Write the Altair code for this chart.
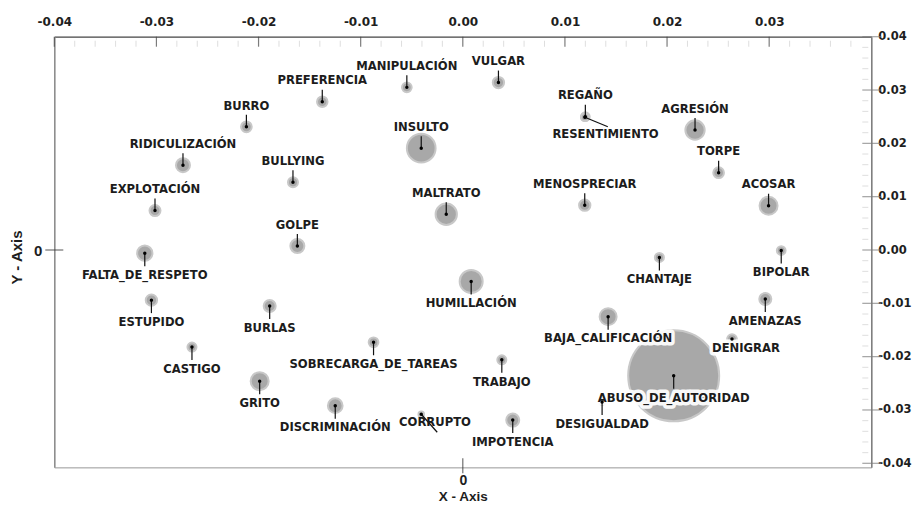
import altair as alt
import pandas as pd

# ---------------- data ----------------
palabras = [
    "MANIPULACIÓN", "PREFERENCIA", "BURRO", "RIDICULIZACIÓN", "BULLYING",
    "EXPLOTACIÓN", "GOLPE", "INSULTO", "MALTRATO", "VULGAR",
    "REGAÑO", "RESENTIMIENTO", "AGRESIÓN", "TORPE", "MENOSPRECIAR",
    "ACOSAR", "CHANTAJE", "BIPOLAR", "FALTA_DE_RESPETO", "ESTUPIDO",
    "BURLAS", "CASTIGO", "SOBRECARGA_DE_TAREAS", "GRITO", "DISCRIMINACIÓN",
    "CORRUPTO", "HUMILLACIÓN", "BAJA_CALIFICACIÓN", "TRABAJO", "ABUSO_DE_AUTORIDAD",
    "DESIGUALDAD", "IMPOTENCIA", "AMENAZAS", "DENIGRAR",
]
coord_x = [
    -0.00548, -0.01376, -0.02119, -0.02740, -0.01663,
    -0.03014, -0.01620, -0.00407, -0.00162, 0.00349,
    0.01200, 0.01195, 0.02274, 0.02505, 0.01194,
    0.02994, 0.01925, 0.03118, -0.03114, -0.03049,
    -0.01891, -0.02652, -0.00874, -0.01989, -0.01249,
    -0.00407, 0.00082, 0.01423, 0.00382, 0.02065,
    0.01364, 0.00489, 0.02962, 0.02636,
]
coord_y = [
    0.0305, 0.0278, 0.0231, 0.0159, 0.0127,
    0.0074, 0.00075, 0.0191, 0.0067, 0.0314,
    0.0250, 0.0249, 0.0225, 0.0145, 0.0084,
    0.0083, -0.0014, -0.0001, -0.0006, -0.0094,
    -0.0105, -0.0182, -0.0173, -0.0246, -0.0292,
    -0.0308, -0.0059, -0.0125, -0.0206, -0.0236,
    -0.0285, -0.0319, -0.0092, -0.0167,
]
peso = [
    9.4, 11.0, 11.4, 19.6, 10.0,
    12.1, 19.6, 82.4, 45.4, 12.8,
    7.6, 6.0, 37.2, 11.4, 12.8,
    32.4, 8.1, 7.6, 23.4, 12.8,
    14.4, 8.1, 9.4, 32.4, 21.6,
    3.0, 52.9, 28.9, 8.1, 828.0,
    3.0, 16.9, 14.4, 9.4,
]
posicion = [
    "arriba", "arriba", "arriba", "arriba", "arriba",
    "arriba", "arriba", "arriba", "arriba", "arriba",
    "arriba", "resent", "arriba", "arriba", "arriba",
    "arriba", "abajo", "abajo", "abajo", "abajo",
    "abajo", "abajo", "abajo", "abajo", "abajo",
    "corrupto", "abajo", "abajo", "abajo", "abajo",
    "abajo", "abajo", "abajo", "denigrar",
]
caja = [p in ("BAJA_CALIFICACIÓN", "ABUSO_DE_AUTORIDAD", "DENIGRAR") for p in palabras]

ticks_mayores_x = [-0.04, -0.03, -0.02, -0.01, 0.0, 0.01, 0.02, 0.03]
ticks_mayores_y = [-0.04, -0.03, -0.02, -0.01, 0.0, 0.01, 0.02, 0.03, 0.04]
ticks_menores = [round(i * 0.002, 3) for i in range(-19, 20) if i % 5 != 0]

df = pd.DataFrame({"palabra": palabras, "x": coord_x, "y": coord_y,
                   "peso": peso, "pos": posicion, "caja": caja})
df_tx = pd.DataFrame({"v": ticks_mayores_x})
df_ty = pd.DataFrame({"v": ticks_mayores_y})
df_tm = pd.DataFrame({"v": ticks_menores})
df_cero = pd.DataFrame({"v": [0.0]})

# ---------------- scales / axes ----------------
xs = alt.Scale(domain=[-0.04, 0.04], nice=False, zero=False)
ys = alt.Scale(domain=[-0.04075, 0.04], nice=False, zero=False)
guion = "replace(datum.label, '\u2212', '-')"

eje_sup = alt.Axis(orient="top", values=ticks_mayores_x, format=".2f", labelExpr=guion,
                   ticks=False, tickSize=0,
                   labelPadding=8.5, domainColor="#4d4d4d", domainWidth=1.3,
                   labelFont="DejaVu Sans", labelFontWeight="bold", labelFontSize=12,
                   labelColor="#1e1e1e", title=None, grid=False, labelFlush=False,
                   labelOverlap=False)
eje_der = alt.Axis(orient="right", values=ticks_mayores_y, format=".2f", labelExpr=guion,
                   ticks=False, tickSize=0,
                   labelPadding=6.5, domainColor="#7a7a7a", domainWidth=1.5,
                   labelFont="DejaVu Sans", labelFontWeight="bold", labelFontSize=11.5,
                   labelColor="#1e1e1e", title=None, grid=False, labelFlush=False,
                   labelOverlap=False)
eje_inf = alt.Axis(orient="bottom", values=[0], format="d", ticks=False, tickSize=0,
                   labelPadding=6.5, domainColor="#bdbdbd", domainWidth=1.5,
                   labelFont="Liberation Sans", labelFontWeight="bold", labelFontSize=14,
                   labelColor="#1e1e1e", title="X - Axis", titleFont="Liberation Sans",
                   titleFontSize=13.5, titleFontWeight="bold", titleColor="#1e1e1e",
                   titleBaseline="alphabetic", titleY=33.2, grid=False, labelFlush=False)
eje_izq = alt.Axis(orient="left", values=[0], format="d", ticks=False, tickSize=0,
                   labelPadding=12.4, domainColor="#8a8a8a", domainWidth=1.5,
                   labelFont="Liberation Sans", labelFontWeight="bold", labelFontSize=15,
                   labelColor="#1e1e1e", title="Y - Axis", titleFont="Liberation Sans",
                   titleFontSize=15, titleFontWeight="bold", titleColor="#1e1e1e",
                   titleAngle=270, titleBaseline="alphabetic", titleAlign="center",
                   titleX=-32.6, titleY=220.3, grid=False)

X = lambda f="x": alt.X(f"{f}:Q", scale=xs, axis=None)
Y = lambda f="y": alt.Y(f"{f}:Q", scale=ys, axis=None)

# ---------------- tick decorations ----------------
t_sup_may = alt.Chart(df_tx).mark_tick(orient="vertical", size=10, thickness=1.2, yOffset=5,
                                       color="#444444").encode(
    x=X("v"), y=alt.YDatum(0.04, scale=ys, axis=None))
t_sup_men = alt.Chart(df_tm).mark_tick(orient="vertical", size=6, thickness=1, yOffset=7,
                                       color="#d0d0d0").encode(
    x=X("v"), y=alt.YDatum(0.04, scale=ys, axis=None))
t_der_may = alt.Chart(df_ty).mark_tick(orient="horizontal", size=19, thickness=1.2, xOffset=0.5,
                                       color="#7a7a7a").encode(
    y=Y("v"), x=alt.XDatum(0.04, scale=xs, axis=None))
t_der_men = alt.Chart(df_tm).mark_tick(orient="horizontal", size=6, thickness=1, xOffset=-6,
                                       color="#d0d0d0").encode(
    y=Y("v"), x=alt.XDatum(0.04, scale=xs, axis=None))
t_inf = alt.Chart(df_cero).mark_tick(orient="vertical", size=15, thickness=1.2, yOffset=-1.5,
                                     color="#333333").encode(
    x=X("v"), y=alt.YDatum(-0.04075, scale=ys, axis=None))
t_izq = alt.Chart(df_cero).mark_tick(orient="horizontal", size=18, thickness=1.2,
                                     color="#333333").encode(
    y=Y("v"), x=alt.XDatum(-0.04, scale=xs, axis=None))

# ---------------- bubbles ----------------
burbujas = alt.Chart(df).mark_circle(color="#a8a8a8", stroke="#c8c8c8", strokeWidth=2,
                                     opacity=1).encode(
    x=alt.X("x:Q", scale=xs, axis=eje_sup),
    y=alt.Y("y:Q", scale=ys, axis=eje_der),
    size=alt.Size("peso:Q", scale=alt.Scale(domain=[0, 1000], range=[0, 10000]), legend=None),
)

puntos = alt.Chart(df).mark_circle(color="black", size=12, opacity=1).encode(
    x=alt.X("x:Q", scale=xs, axis=eje_inf),
    y=alt.Y("y:Q", scale=ys, axis=eje_izq),
)

# ---------------- leader lines ----------------
linea = dict(color="#111111", strokeWidth=1.2)
g_arriba = alt.Chart(df).transform_filter("datum.pos == 'arriba'").mark_rule(
    y2Offset=-12, **linea).encode(x=X(), y=Y(), y2="y:Q")
g_abajo = alt.Chart(df).transform_filter("datum.pos == 'abajo'").mark_rule(
    y2Offset=13, **linea).encode(x=X(), y=Y(), y2="y:Q")
g_resent = alt.Chart(df).transform_filter("datum.pos == 'resent'").mark_rule(
    x2Offset=23, y2Offset=9.5, **linea).encode(x=X(), y=Y(), x2="x:Q", y2="y:Q")
g_corr = alt.Chart(df).transform_filter("datum.pos == 'corrupto'").mark_rule(
    x2Offset=16, y2Offset=18, **linea).encode(x=X(), y=Y(), x2="x:Q", y2="y:Q")

# ---------------- labels ----------------
fuente = dict(font="DejaVu Sans", fontWeight="bold", fontSize=11.6, baseline="alphabetic",
              align="center")
desplaz = {"arriba": (0, -17.3), "abajo": (0, 25.7), "resent": (20.7, 20.5),
           "corrupto": (13.8, 11.9), "denigrar": (14, 13.2)}

halos = []
textos = []
for clave, (ddx, ddy) in desplaz.items():
    base = alt.Chart(df).transform_filter(f"datum.pos == '{clave}'")
    halos.append(base.transform_filter("datum.caja").mark_text(
        dx=ddx, dy=ddy, fill="white", stroke="white", strokeWidth=7, strokeJoin="round",
        opacity=0.92, **fuente).encode(x=X(), y=Y(), text="palabra:N"))
    textos.append(base.mark_text(dx=ddx, dy=ddy, color="#1c1c1c", **fuente).encode(
        x=X(), y=Y(), text="palabra:N"))

capas = [t_sup_men, t_der_men, burbujas] + halos + [g_arriba, g_abajo, g_resent, g_corr,
         puntos, t_sup_may, t_der_may, t_inf, t_izq] + textos

chart = alt.layer(*capas).resolve_axis(x="independent", y="independent").properties(
    width=817, height=430.6,
    autosize=alt.AutoSizeParams(type="none"),
    padding={"left": 46.3, "top": 28.7, "right": 40.7, "bottom": 36.7},
).configure_view(stroke=None).configure(background="white")

chart.save("out.html", embed_options={"renderer": "svg", "actions": False})
